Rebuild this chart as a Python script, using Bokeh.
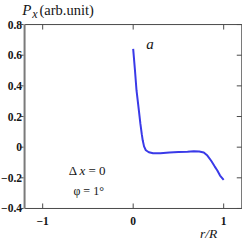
import math
from bokeh.plotting import figure
from bokeh.models import Range1d
from bokeh.core.properties import value
from bokeh.embed import file_html
from bokeh.resources import INLINE

# data
r_vals = [0.0, 0.02, 0.037, 0.06, 0.08, 0.095, 0.106, 0.12, 0.14, 0.173, 0.22, 0.30,
          0.40, 0.50, 0.60, 0.67, 0.73, 0.78, 0.82, 0.86, 0.90, 0.93, 0.96, 1.0]
px_vals = [0.641, 0.50, 0.37, 0.255, 0.152, 0.085, 0.043, 0.005, -0.02, -0.033, -0.04, -0.04,
           -0.035, -0.032, -0.03, -0.027, -0.028, -0.035, -0.055, -0.087, -0.125, -0.152, -0.185, -0.213]

x_ticks = [-1, 0, 1]
x_tick_labels = ["\u22121", "0", "1"]
y_ticks = [-0.4, -0.2, 0, 0.2, 0.4, 0.6, 0.8]
y_tick_labels = ["\u22120.4", "\u22120.2", "0", "0.2", "0.4", "0.6", "0.8"]

# axis box
X_MIN, X_MAX = -1.2, 1.2
Y_MIN, Y_MAX = -0.4, 0.8

FONT = "Liberation Serif"
DARK = "#4a4a4a"
TXT = "#151515"

# the plotting area covers the whole canvas; the axis box is drawn inside it
p = figure(width=242, height=242,
           x_range=Range1d(-1.466, 1.208), y_range=Range1d(-0.622, 0.957),
           output_backend="svg", toolbar_location=None, min_border=0)
p.axis.visible = False
p.grid.visible = False
p.title.visible = False
p.outline_line_color = None
p.background_fill_color = "white"
p.border_fill_color = "white"

# axis box: right, top, bottom in dark grey; left in thicker mid grey
p.segment(x0=[X_MIN, X_MAX, X_MIN], y0=[Y_MAX, Y_MIN, Y_MIN],
          x1=[X_MAX, X_MAX, X_MAX], y1=[Y_MAX, Y_MAX, Y_MIN],
          line_color=DARK, line_width=1)
p.segment(x0=[X_MIN], y0=[Y_MIN], x1=[X_MIN], y1=[Y_MAX], line_color="#7a7a7a", line_width=2)

# ticks
p.ray(x=x_ticks, y=[Y_MIN] * len(x_ticks), length=5, length_units="screen",
      angle=math.pi / 2, line_color=DARK, line_width=1)
p.ray(x=x_ticks, y=[Y_MAX] * len(x_ticks), length=5, length_units="screen",
      angle=-math.pi / 2, line_color=DARK, line_width=1)
p.ray(x=[X_MAX] * len(y_ticks), y=y_ticks, length=5, length_units="screen",
      angle=math.pi, line_color=DARK, line_width=1)
p.ray(x=[X_MIN - 0.011] * len(y_ticks), y=y_ticks, length=3, length_units="screen",
      angle=math.pi, line_color=DARK, line_width=1)

# tick labels
p.text(x=[-1.228] * len(y_ticks), y=y_ticks, text=y_tick_labels,
       text_font=value(FONT), text_font_size="11.5px", text_font_style="bold",
       text_color=TXT, text_align="right", text_baseline="middle")
p.text(x=x_ticks, y=[-0.479] * len(x_ticks), text=x_tick_labels,
       text_font=value(FONT), text_font_size="11.5px", text_font_style="bold",
       text_color=TXT, text_align="center", text_baseline="middle")

# curve
p.line(r_vals, px_vals, line_color="#3a3ae8", line_width=2)

def lab(x, y, text, size, style="normal", align="left"):
    p.text(x=[x], y=[y], text=[text], text_font=value(FONT), text_font_size=size,
           text_font_style=style, text_color=TXT, text_align=align, text_baseline="middle")

# title  P_x (arb.unit)
lab(-1.227, 0.898, "P", "15px", "italic")
lab(-1.115, 0.872, "x", "12px", "italic")
lab(-1.035, 0.896, "(arb.unit)", "14.5px")

lab(0.186, 0.67, "a", "15px", "italic", align="center")

lab(-0.712, -0.155, "\u0394", "13px")
lab(-0.592, -0.155, "x", "13px", "italic")
lab(-0.495, -0.155, "= 0", "13px")
lab(-0.66, -0.283, "\u03c6 = 1\u00b0", "12px")

# x-axis title
lab(0.834, -0.563, "r/R", "13.5px", "italic", align="center")

open("out.html", "w").write(file_html(p, INLINE))
